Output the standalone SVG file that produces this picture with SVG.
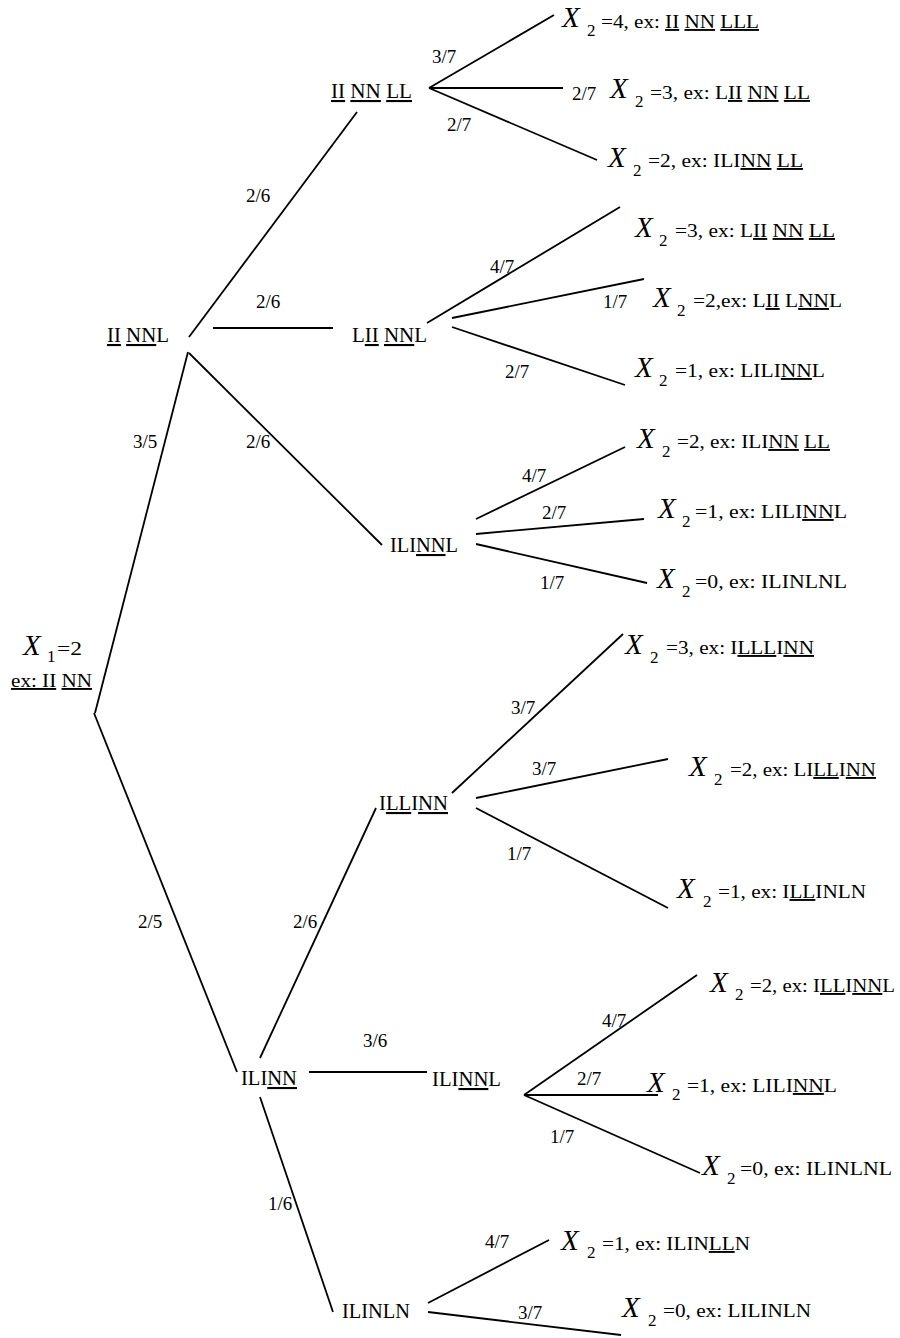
<svg xmlns="http://www.w3.org/2000/svg" width="900" height="1338" viewBox="0 0 900 1338" font-family="'Liberation Serif', 'Times New Roman', serif">
<style>
text { font-family: 'Liberation Serif', 'Times New Roman', serif; fill: #000; }
.n { font-size: 21px; }
.p { font-size: 19px; }
.x { font-size: 29px; font-style: italic; }
.s { font-size: 17px; }
.t { font-size: 19px; }
.u { text-decoration: underline; }
.c line { stroke: #000; stroke-width: 1.8; stroke-linecap: butt; }
</style>
<rect width="900" height="1338" fill="#fff"/>
<g id="connectors" class="c">
<line x1="95" y1="713" x2="188" y2="352"/>
<line x1="94" y1="713" x2="237" y2="1072"/>
<line x1="189" y1="337" x2="357" y2="112"/>
<line x1="213" y1="328" x2="333" y2="328"/>
<line x1="189" y1="353" x2="382" y2="545"/>
<line x1="429" y1="88" x2="554" y2="15"/>
<line x1="429" y1="88" x2="563" y2="88"/>
<line x1="429" y1="88" x2="597" y2="160"/>
<line x1="427" y1="323" x2="620" y2="207"/>
<line x1="452" y1="318" x2="644" y2="279"/>
<line x1="452" y1="327" x2="625" y2="385"/>
<line x1="476" y1="519" x2="625" y2="447"/>
<line x1="476" y1="534" x2="644" y2="519"/>
<line x1="476" y1="544" x2="647" y2="583"/>
<line x1="260" y1="1058" x2="376" y2="808"/>
<line x1="309" y1="1072" x2="427" y2="1072"/>
<line x1="260" y1="1097" x2="333" y2="1312"/>
<line x1="452" y1="793" x2="623" y2="634"/>
<line x1="476" y1="798" x2="668" y2="759"/>
<line x1="476" y1="808" x2="668" y2="908"/>
<line x1="524" y1="1095" x2="697" y2="975"/>
<line x1="524" y1="1095" x2="658" y2="1095"/>
<line x1="524" y1="1095" x2="700" y2="1173"/>
<line x1="428" y1="1303" x2="549" y2="1240"/>
<line x1="428" y1="1312" x2="621" y2="1335"/>
</g>
<g id="edge-labels">
<text class="p" x="246" y="202">2/6</text>
<text class="p" x="256" y="308">2/6</text>
<text class="p" x="133" y="448">3/5</text>
<text class="p" x="246" y="448">2/6</text>
<text class="p" x="432" y="63">3/7</text>
<text class="p" x="572" y="100">2/7</text>
<text class="p" x="447" y="131">2/7</text>
<text class="p" x="490" y="273">4/7</text>
<text class="p" x="603" y="308">1/7</text>
<text class="p" x="505" y="378">2/7</text>
<text class="p" x="522" y="482">4/7</text>
<text class="p" x="542" y="519">2/7</text>
<text class="p" x="540" y="589">1/7</text>
<text class="p" x="511" y="714">3/7</text>
<text class="p" x="532" y="775">3/7</text>
<text class="p" x="507" y="860">1/7</text>
<text class="p" x="138" y="928">2/5</text>
<text class="p" x="293" y="928">2/6</text>
<text class="p" x="363" y="1047">3/6</text>
<text class="p" x="602" y="1027">4/7</text>
<text class="p" x="577" y="1085">2/7</text>
<text class="p" x="550" y="1143">1/7</text>
<text class="p" x="268" y="1210">1/6</text>
<text class="p" x="485" y="1248">4/7</text>
<text class="p" x="518" y="1319">3/7</text>
</g>
<g id="root">
<text class="x" x="23" y="655">X</text>
<text class="s" x="47" y="662">1</text>
<text class="t" x="57" y="655" textLength="25" lengthAdjust="spacingAndGlyphs">=2</text>
<text class="t" x="11" y="687" textLength="81" lengthAdjust="spacingAndGlyphs"><tspan class="u">ex: II</tspan> <tspan class="u">NN</tspan></text>
</g>
<g id="node-IINNL"><text class="n" x="107" y="342" textLength="62" lengthAdjust="spacingAndGlyphs"><tspan class="u">II</tspan> <tspan class="u">NN</tspan>L</text></g>
<g id="node-IINNLL"><text class="n" x="331" y="98" textLength="81" lengthAdjust="spacingAndGlyphs"><tspan class="u">II</tspan> <tspan class="u">NN</tspan> <tspan class="u">LL</tspan></text></g>
<g id="node-LIINNL"><text class="n" x="352" y="342" textLength="75" lengthAdjust="spacingAndGlyphs">L<tspan class="u">II</tspan> <tspan class="u">NN</tspan>L</text></g>
<g id="node-ILINNL-a"><text class="n" x="390" y="552" textLength="68" lengthAdjust="spacingAndGlyphs">ILI<tspan class="u">NN</tspan>L</text></g>
<g id="node-ILLINN"><text class="n" x="379" y="810" textLength="69" lengthAdjust="spacingAndGlyphs">I<tspan class="u">LL</tspan>I<tspan class="u">NN</tspan></text></g>
<g id="node-ILINN"><text class="n" x="241" y="1085" textLength="56" lengthAdjust="spacingAndGlyphs">ILI<tspan class="u">NN</tspan></text></g>
<g id="node-ILINNL-b"><text class="n" x="432" y="1086" textLength="69" lengthAdjust="spacingAndGlyphs">ILI<tspan class="u">NN</tspan>L</text></g>
<g id="node-ILINLN"><text class="n" x="342" y="1318" textLength="68" lengthAdjust="spacingAndGlyphs">ILINLN</text></g>
<g id="leaf-a"><text class="x" x="562" y="27">X</text><text class="s" x="587" y="36">2</text><text class="t" x="601" y="28" textLength="158" lengthAdjust="spacingAndGlyphs">=4, ex: <tspan class="u">II</tspan> <tspan class="u">NN</tspan> <tspan class="u">LLL</tspan></text></g>
<g id="leaf-b"><text class="x" x="610" y="98">X</text><text class="s" x="635" y="107">2</text><text class="t" x="650" y="99" textLength="160" lengthAdjust="spacingAndGlyphs">=3, ex: L<tspan class="u">II</tspan> <tspan class="u">NN</tspan> <tspan class="u">LL</tspan></text></g>
<g id="leaf-c"><text class="x" x="608" y="167">X</text><text class="s" x="633" y="176">2</text><text class="t" x="648" y="167" textLength="155" lengthAdjust="spacingAndGlyphs">=2, ex: ILI<tspan class="u">NN</tspan> <tspan class="u">LL</tspan></text></g>
<g id="leaf-d"><text class="x" x="635" y="237">X</text><text class="s" x="659" y="246">2</text><text class="t" x="675" y="237" textLength="160" lengthAdjust="spacingAndGlyphs">=3, ex: L<tspan class="u">II</tspan> <tspan class="u">NN</tspan> <tspan class="u">LL</tspan></text></g>
<g id="leaf-e"><text class="x" x="653" y="307">X</text><text class="s" x="677" y="316">2</text><text class="t" x="693" y="307" textLength="149" lengthAdjust="spacingAndGlyphs">=2,ex: L<tspan class="u">II</tspan> L<tspan class="u">NN</tspan>L</text></g>
<g id="leaf-f"><text class="x" x="635" y="377">X</text><text class="s" x="659" y="386">2</text><text class="t" x="675" y="377" textLength="150" lengthAdjust="spacingAndGlyphs">=1, ex: LILI<tspan class="u">NN</tspan>L</text></g>
<g id="leaf-g"><text class="x" x="637" y="448">X</text><text class="s" x="662" y="457">2</text><text class="t" x="677" y="448" textLength="153" lengthAdjust="spacingAndGlyphs">=2, ex: ILI<tspan class="u">NN</tspan> <tspan class="u">LL</tspan></text></g>
<g id="leaf-h"><text class="x" x="658" y="518">X</text><text class="s" x="682" y="527">2</text><text class="t" x="695" y="518" textLength="152" lengthAdjust="spacingAndGlyphs">=1, ex: LILI<tspan class="u">NN</tspan>L</text></g>
<g id="leaf-i"><text class="x" x="657" y="588">X</text><text class="s" x="682" y="597">2</text><text class="t" x="695" y="588" textLength="152" lengthAdjust="spacingAndGlyphs">=0, ex: ILINLNL</text></g>
<g id="leaf-j"><text class="x" x="625" y="654">X</text><text class="s" x="650" y="663">2</text><text class="t" x="666" y="654" textLength="148" lengthAdjust="spacingAndGlyphs">=3, ex: I<tspan class="u">LLL</tspan>I<tspan class="u">NN</tspan></text></g>
<g id="leaf-k"><text class="x" x="689" y="776">X</text><text class="s" x="714" y="785">2</text><text class="t" x="730" y="776" textLength="146" lengthAdjust="spacingAndGlyphs">=2, ex: LI<tspan class="u">LL</tspan>I<tspan class="u">NN</tspan></text></g>
<g id="leaf-l"><text class="x" x="677" y="898">X</text><text class="s" x="703" y="907">2</text><text class="t" x="718" y="898" textLength="148" lengthAdjust="spacingAndGlyphs">=1, ex: I<tspan class="u">LL</tspan>INLN</text></g>
<g id="leaf-m"><text class="x" x="710" y="992">X</text><text class="s" x="735" y="1000">2</text><text class="t" x="750" y="992" textLength="145" lengthAdjust="spacingAndGlyphs">=2, ex: I<tspan class="u">LL</tspan>I<tspan class="u">NN</tspan>L</text></g>
<g id="leaf-n"><text class="x" x="647" y="1092">X</text><text class="s" x="672" y="1100">2</text><text class="t" x="687" y="1092" textLength="150" lengthAdjust="spacingAndGlyphs">=1, ex: LILI<tspan class="u">NN</tspan>L</text></g>
<g id="leaf-o"><text class="x" x="702" y="1175">X</text><text class="s" x="727" y="1184">2</text><text class="t" x="740" y="1175" textLength="152" lengthAdjust="spacingAndGlyphs">=0, ex: ILINLNL</text></g>
<g id="leaf-p"><text class="x" x="561" y="1250">X</text><text class="s" x="587" y="1258">2</text><text class="t" x="602" y="1250" textLength="148" lengthAdjust="spacingAndGlyphs">=1, ex: ILIN<tspan class="u">LL</tspan>N</text></g>
<g id="leaf-q"><text class="x" x="622" y="1317">X</text><text class="s" x="648" y="1326">2</text><text class="t" x="663" y="1317" textLength="148" lengthAdjust="spacingAndGlyphs">=0, ex: LILINLN</text></g>
</svg>
